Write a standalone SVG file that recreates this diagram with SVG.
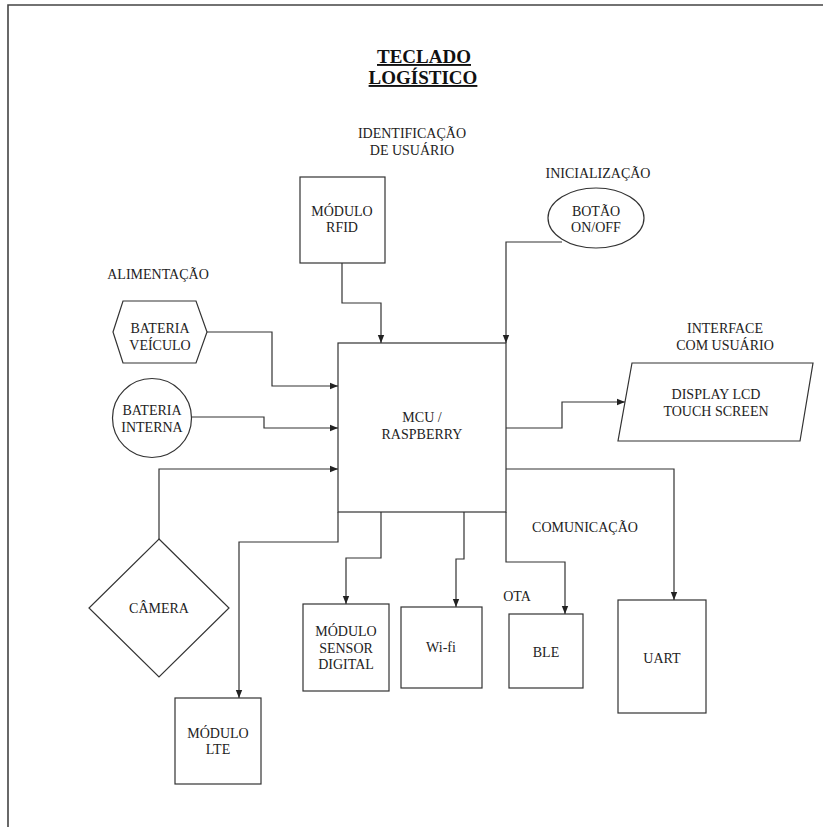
<svg xmlns="http://www.w3.org/2000/svg" width="823" height="827" viewBox="0 0 823 827">
<defs>
<marker id="arr" viewBox="0 0 8 8" refX="8" refY="4" markerWidth="8" markerHeight="8" markerUnits="userSpaceOnUse" orient="auto">
<path d="M0,0.8 L8,4 L0,7.2 Z" fill="#222"/>
</marker>
<style>
text{font-family:'Liberation Serif','Tinos','Nimbus Roman','Nimbus Roman No9 L','Noto Serif','DejaVu Serif','FreeSerif','Times New Roman',Times,serif}
.t{font-size:14px;fill:#222;text-anchor:middle}
.ti{font-size:19px;font-weight:bold;fill:#111;text-anchor:middle;text-decoration:underline}
.s{fill:#fff;stroke:#333;stroke-width:1.2}
.c{fill:none;stroke:#333;stroke-width:1.2;marker-end:url(#arr)}
</style>
</defs>
<rect width="823" height="827" fill="#fff"/>
<path d="M8,827 V5 H823" fill="none" stroke="#444" stroke-width="1.6"/>
<g id="title">
<text class="ti" x="424" y="63">TECLADO</text>
<text class="ti" x="423" y="84">LOGÍSTICO</text>
</g>
<g id="labels">
<text class="t" x="412" y="138">IDENTIFICAÇÃO</text>
<text class="t" x="412" y="155">DE USUÁRIO</text>
<text class="t" x="598" y="178">INICIALIZAÇÃO</text>
<text class="t" x="158" y="279">ALIMENTAÇÃO</text>
<text class="t" x="725" y="333">INTERFACE</text>
<text class="t" x="725" y="350">COM USUÁRIO</text>
<text class="t" x="585" y="532">COMUNICAÇÃO</text>
<text class="t" x="517" y="601">OTA</text>
</g>
<g id="connectors">
<path class="c" d="M342,263 V303 H381 V343"/>
<path class="c" d="M562,242 H506 V343"/>
<path class="c" d="M207,332 H272 V386 H338"/>
<path class="c" d="M192,417 H264 V428 H338"/>
<path class="c" d="M159,539 V469 H338"/>
<path class="c" d="M506,428 H562 V402 H625"/>
<path class="c" d="M506,469 H674 V600"/>
<path class="c" d="M338,512 V542 H239 V698"/>
<path class="c" d="M381,512 V558 H346 V604"/>
<path class="c" d="M464,512 V559 H456 V607"/>
<path class="c" d="M506,512 V562 H565 V614"/>
</g>
<g id="rfid">
<rect class="s" x="300" y="177" width="85" height="86"/>
<text class="t" x="342" y="216">MÓDULO</text>
<text class="t" x="342" y="232">RFID</text>
</g>
<g id="botao">
<ellipse class="s" cx="596" cy="218" rx="48" ry="30"/>
<text class="t" x="596" y="216">BOTÃO</text>
<text class="t" x="596" y="232">ON/OFF</text>
</g>
<g id="bateria-veiculo">
<polygon class="s" points="113,332 123,301 196,301 207,332 196,363 123,363"/>
<text class="t" x="160" y="333">BATERIA</text>
<text class="t" x="160" y="350">VEÍCULO</text>
</g>
<g id="bateria-interna">
<circle class="s" cx="152" cy="418" r="39.5"/>
<text class="t" x="152" y="415">BATERIA</text>
<text class="t" x="152" y="432">INTERNA</text>
</g>
<g id="mcu">
<rect class="s" x="338" y="343" width="168" height="169"/>
<text class="t" x="422" y="422">MCU /</text>
<text class="t" x="422" y="439">RASPBERRY</text>
</g>
<g id="display">
<polygon class="s" points="632,363 813,363 800,441 618,441"/>
<text class="t" x="716" y="399">DISPLAY LCD</text>
<text class="t" x="716" y="416">TOUCH SCREEN</text>
</g>
<g id="camera">
<polygon class="s" points="159,539 229,608 159,677 89,608"/>
<text class="t" x="159" y="613">CÂMERA</text>
</g>
<g id="sensor">
<rect class="s" x="303" y="604" width="86" height="87"/>
<text class="t" x="346" y="636">MÓDULO</text>
<text class="t" x="346" y="653">SENSOR</text>
<text class="t" x="346" y="669">DIGITAL</text>
</g>
<g id="wifi">
<rect class="s" x="401" y="607" width="81" height="81"/>
<text class="t" x="441" y="652">Wi-fi</text>
</g>
<g id="ble">
<rect class="s" x="509" y="614" width="74" height="74"/>
<text class="t" x="546" y="657">BLE</text>
</g>
<g id="uart">
<rect class="s" x="618" y="600" width="88" height="113"/>
<text class="t" x="662" y="663">UART</text>
</g>
<g id="lte">
<rect class="s" x="175" y="698" width="86" height="86"/>
<text class="t" x="218" y="738">MÓDULO</text>
<text class="t" x="218" y="754">LTE</text>
</g>
</svg>
